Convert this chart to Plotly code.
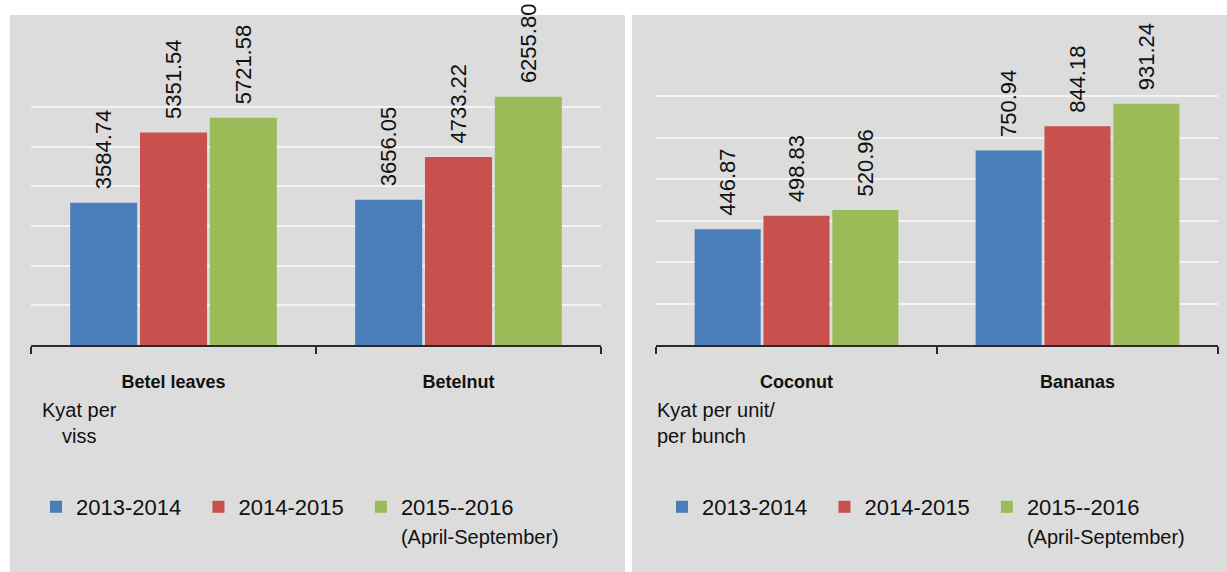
import plotly.graph_objects as go

# ---------------- data ----------------
left_categories = ["Betel leaves", "Betelnut"]
right_categories = ["Coconut", "Bananas"]
series_names = ["2013-2014\u00a0\u00a0", "2014-2015\u00a0\u00a0",
                "2015--2016<br><span style='font-size:20px'>(April-September)</span>"]
left_values = {
    "2013-2014": [3584.74, 3656.05],
    "2014-2015": [5351.54, 4733.22],
    "2015--2016": [5721.58, 6255.80],
}
right_values = {
    "2013-2014": [446.87, 750.94],
    "2014-2015": [498.83, 844.18],
    "2015--2016": [520.96, 931.24],
}
left_unit = "Kyat per<br>viss"
right_unit = "Kyat per unit/<br>per bunch"

# ---------------- style ----------------
W, H = 1227, 572
FONT = "Liberation Sans, Arial, sans-serif"
colors = ["#4a7ebb", "#c8504d", "#9bbb59"]
panel = "#dcdcdc"


def px(x):
    return x / W


def py(y):
    return 1 - y / H


keys = list(left_values.keys())
fig = go.Figure()
for i, k in enumerate(keys):
    fig.add_trace(go.Bar(
        x=left_categories, y=left_values[k], name=series_names[i],
        marker=dict(color=colors[i], line=dict(width=0)),
        texttemplate="\u00a0\u2009%{y:.2f}", textposition="outside", textangle=-90,
        textfont=dict(size=22, color="#111", family=FONT), cliponaxis=False,
        constraintext="none", xaxis="x", yaxis="y", legend="legend",
        hoverinfo="skip"))
for i, k in enumerate(keys):
    fig.add_trace(go.Bar(
        x=right_categories, y=right_values[k], name=series_names[i],
        marker=dict(color=colors[i], line=dict(width=0)),
        texttemplate="\u00a0\u2009%{y:.2f}", textposition="outside", textangle=-90,
        textfont=dict(size=22, color="#111", family=FONT), cliponaxis=False,
        constraintext="none", xaxis="x2", yaxis="y2", legend="legend2",
        hoverinfo="skip"))

ydom = [py(345), py(88)]
xaxis_common = dict(
    type="category", showline=True, linecolor="#2a2a2a", linewidth=1.5,
    ticks="outside", tickson="boundaries", ticklen=7, tickcolor="#2a2a2a",
    tickwidth=1.5, showgrid=False, zeroline=False, ticklabelstandoff=20,
    tickfont=dict(size=18, color="#111", family=FONT, weight="bold"),
)
yaxis_common = dict(
    showline=False, showticklabels=False, ticks="", zeroline=False,
    showgrid=True, gridcolor="rgba(255,255,255,0.65)", gridwidth=2,
)

legend_common = dict(orientation="h", xanchor="left", yanchor="top",
                     bgcolor="rgba(0,0,0,0)", font=dict(size=22, family=FONT, color="#111"),
                     valign="top", traceorder="normal")

fig.update_layout(
    width=W, height=H, margin=dict(l=0, r=0, t=0, b=0),
    paper_bgcolor="white", plot_bgcolor="rgba(0,0,0,0)",
    font=dict(family=FONT, color="#111"),
    barmode="group", bargap=0.265, bargroupgap=0.04,
    xaxis=dict(domain=[px(31), px(601)], anchor="y", **xaxis_common),
    yaxis=dict(domain=ydom, anchor="x", range=[0, 257 / 0.0397], dtick=1000, **yaxis_common),
    xaxis2=dict(domain=[px(656), px(1218)], anchor="y2", **xaxis_common),
    yaxis2=dict(domain=ydom, anchor="x2", range=[0, 257 / 0.259], dtick=160, **yaxis_common),
    legend=dict(x=px(36), y=py(486), **legend_common),
    legend2=dict(x=px(662), y=py(486), **legend_common),
    shapes=[
        dict(type="rect", xref="paper", yref="paper", x0=px(10), x1=px(625),
             y0=0, y1=py(15), fillcolor=panel, line=dict(width=0), layer="below"),
        dict(type="rect", xref="paper", yref="paper", x0=px(632), x1=1,
             y0=0, y1=py(15), fillcolor=panel, line=dict(width=0), layer="below"),
    ],
    annotations=[
        dict(text=left_unit, xref="paper", yref="paper", x=px(40), y=py(397),
             xanchor="left", yanchor="top", align="center", showarrow=False,
             font=dict(size=20, family=FONT, color="#111")),
        dict(text=right_unit, xref="paper", yref="paper", x=px(655), y=py(397),
             xanchor="left", yanchor="top", align="left", showarrow=False,
             font=dict(size=20, family=FONT, color="#111")),
    ],
)

fig.write_html(
    "out.html",
    config={"displayModeBar": False},
    post_script="document.body.style.margin='0';document.body.style.padding='0';"
                "document.body.style.overflow='hidden';",
)
